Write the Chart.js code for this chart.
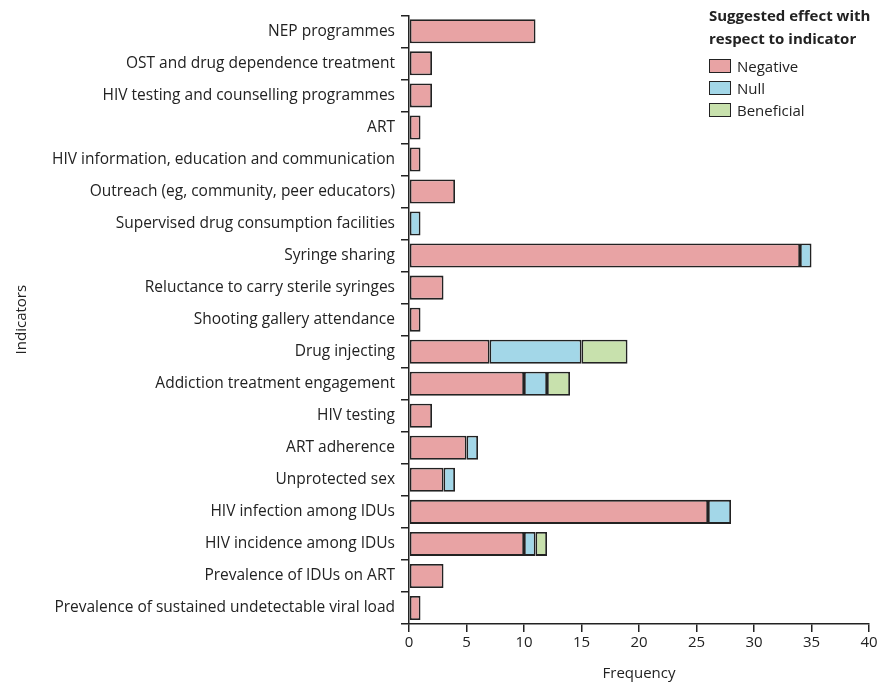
<!DOCTYPE html>
<html>
<head>
<meta charset="utf-8">
<script src="https://cdn.jsdelivr.net/npm/chart.js@4"></script>
<style>
  body { margin: 0; background: #fff; }
  #wrap { position: relative; width: 883px; height: 688px; }
  #legend { position: absolute; left: 709px; top: 4px; font-family: "Open Sans", sans-serif; color: #222; }
  #legend .title { font-weight: bold; font-size: 15px; line-height: 23px; margin-bottom: 5px; }
  #legend .item { font-size: 15px; line-height: 22px; display: flex; align-items: center; }
  #legend .box { width: 22px; height: 14px; border: 1.8px solid #222; margin-right: 6px; box-sizing: border-box; }
</style>
</head>
<body>
<div id="wrap">
  <canvas id="chart" width="883" height="688"></canvas>
  <div id="legend"></div>
</div>
<script>
const indicators = [
  'NEP programmes',
  'OST and drug dependence treatment',
  'HIV testing and counselling programmes',
  'ART',
  'HIV information, education and communication',
  'Outreach (eg, community, peer educators)',
  'Supervised drug consumption facilities',
  'Syringe sharing',
  'Reluctance to carry sterile syringes',
  'Shooting gallery attendance',
  'Drug injecting',
  'Addiction treatment engagement',
  'HIV testing',
  'ART adherence',
  'Unprotected sex',
  'HIV infection among IDUs',
  'HIV incidence among IDUs',
  'Prevalence of IDUs on ART',
  'Prevalence of sustained undetectable viral load'
];

const negative   = [11, 2, 2, 1, 1, 4, 0, 34, 3, 1, 7, 10, 2, 5, 3, 26, 10, 3, 1];
const nullEffect = [0, 0, 0, 0, 0, 0, 1, 1, 0, 0, 8, 2, 0, 1, 1, 2, 1, 0, 0];
const beneficial = [0, 0, 0, 0, 0, 0, 0, 0, 0, 0, 4, 2, 0, 0, 0, 0, 1, 0, 0];

const xTicks = [0, 5, 10, 15, 20, 25, 30, 35, 40];

const font = "'Open Sans', sans-serif";
const ink = '#222';

const datasets = [
  { label: 'Negative', data: negative, backgroundColor: '#e8a3a4' },
  { label: 'Null', data: nullEffect, backgroundColor: '#a3d7e8' },
  { label: 'Beneficial', data: beneficial, backgroundColor: '#c8e1ad' }
].map(d => Object.assign(d, {
  borderColor: ink,
  borderWidth: 1.8,
  borderSkipped: false,
  barPercentage: 0.75,
  categoryPercentage: 1
}));

const chart = new Chart(document.getElementById('chart'), {
  type: 'bar',
  data: { labels: indicators, datasets },
  options: {
    indexAxis: 'y',
    responsive: false,
    animation: false,
    layout: { padding: { left: 0, right: 14, top: 12, bottom: 0 } },
    plugins: { legend: { display: false }, tooltip: { enabled: false } },
    scales: {
      x: {
        stacked: true,
        min: 0,
        max: 40,
        afterBuildTicks: s => { s.ticks = xTicks.map(v => ({ value: v })); },
        afterFit: s => { s.height = 64; },
        border: { color: ink, width: 1.5 },
        grid: { drawOnChartArea: false, color: ink, lineWidth: 1.5, tickLength: 8 },
        ticks: { color: ink, font: { family: font, size: 15 }, padding: 2, maxRotation: 0 },
        title: { display: true, text: 'Frequency', color: ink, font: { family: font, size: 15 }, padding: { top: 4, bottom: 5 } }
      },
      y: {
        stacked: true,
        afterFit: s => { s.width = 409; },
        border: { color: ink, width: 1.5 },
        grid: { offset: true, drawOnChartArea: false, color: ink, lineWidth: 1.5, tickLength: 8 },
        ticks: { color: ink, font: { family: font, size: 15.5 }, padding: 6, autoSkip: false },
        title: { display: true, text: 'Indicators', color: ink, font: { family: font, size: 15 }, padding: { top: 13, bottom: 0 } }
      }
    }
  }
});

// legend built from the datasets
const legend = document.getElementById('legend');
legend.innerHTML = '<div class="title">Suggested effect with<br>respect to indicator</div>' +
  datasets.map(d => `<div class="item"><span class="box" style="background:${d.backgroundColor}"></span>${d.label}</div>`).join('');
</script>
</body>
</html>
